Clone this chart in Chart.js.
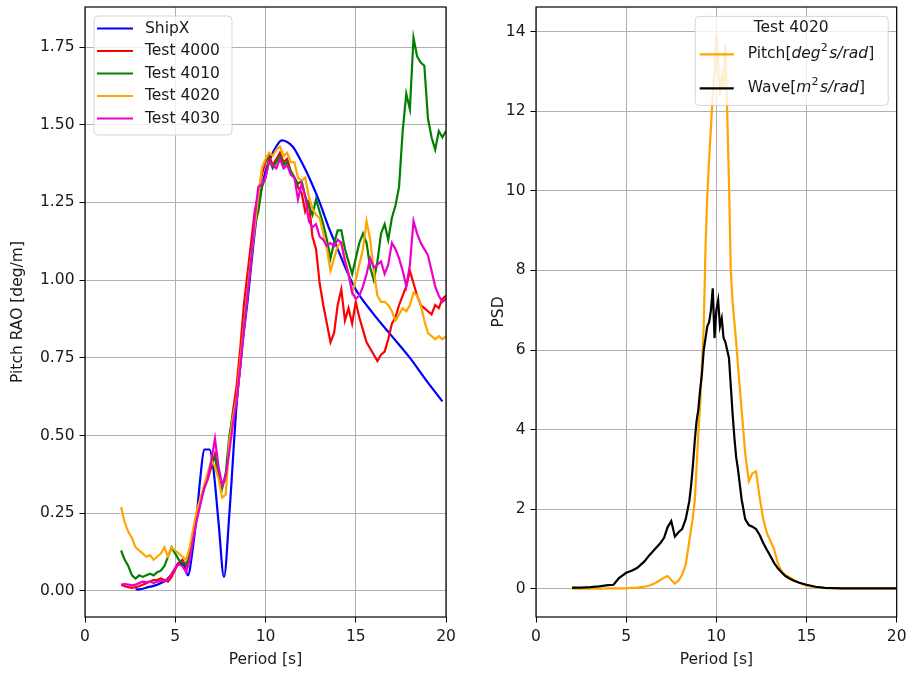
<!DOCTYPE html>
<html>
<head>
<meta charset="utf-8">
<script src="https://cdn.jsdelivr.net/npm/chart.js@4.4.0/dist/chart.umd.min.js"></script>
<style>
  html, body { margin: 0; padding: 0; background: #fff; }
  body { width: 906px; height: 673px; position: relative; overflow: hidden; }
  canvas { position: absolute; top: 0; }
  #raoChart { left: 0; }
  #psdChart { left: 470px; }
</style>
</head>
<body>
<canvas id="raoChart" width="470" height="673"></canvas>
<canvas id="psdChart" width="436" height="673"></canvas>
<script>
// ---- data ----
const raoTicks = [0, 0.25, 0.5, 0.75, 1.0, 1.25, 1.5, 1.75];
const psdTicks = [0, 2, 4, 6, 8, 10, 12, 14];
const raoLabels = ['ShipX', 'Test 4000', 'Test 4010', 'Test 4020', 'Test 4030'];

const shipxPeriod = [2.8, 3.0, 3.5, 4.0, 4.5, 4.9, 5.2, 5.5, 5.7, 6.0, 6.2, 6.4, 6.6, 6.9, 7.1, 7.4, 7.7, 8.0, 8.4, 8.7,
  9.0, 9.5, 10.0, 10.5, 10.9, 11.5, 12.0, 12.5, 13.0, 13.5, 14.0, 14.5, 15.0, 16.0, 17.0, 18.0, 19.0, 19.8];
const shipxRao = [0.005, 0.005, 0.012, 0.02, 0.035, 0.06, 0.09, 0.08, 0.05, 0.15, 0.25, 0.37, 0.455, 0.455, 0.40, 0.22, 0.045, 0.25, 0.6, 0.78,
  0.93, 1.2, 1.35, 1.42, 1.45, 1.43, 1.38, 1.32, 1.25, 1.17, 1.10, 1.03, 0.97, 0.89, 0.82, 0.75, 0.67, 0.61];

const testPeriod = [2.0, 2.2, 2.4, 2.6, 2.8, 3.0, 3.2, 3.4, 3.6, 3.8,
  4.0, 4.2, 4.4, 4.6, 4.8, 5.0, 5.2, 5.4, 5.6, 5.8,
  6.0, 6.2, 6.4, 6.6, 6.8, 7.0, 7.2, 7.4, 7.6, 7.8,
  8.0, 8.2, 8.4, 8.6, 8.8, 9.0, 9.2, 9.4, 9.6, 9.8,
  10.0, 10.2, 10.4, 10.6, 10.8, 11.0, 11.2, 11.4, 11.6, 11.8,
  12.0, 12.2, 12.4, 12.6, 12.8, 13.0, 13.2, 13.4, 13.6, 13.8,
  14.0, 14.2, 14.4, 14.6, 14.8, 15.0, 15.2, 15.4, 15.6, 15.8,
  16.0, 16.2, 16.4, 16.6, 16.8, 17.0, 17.2, 17.4, 17.6, 17.8,
  18.0, 18.2, 18.4, 18.6, 18.8, 19.0, 19.2, 19.4, 19.6, 19.8,
  20.0];

const test4000 = [0.02, 0.015, 0.012, 0.01, 0.012, 0.015, 0.02, 0.025, 0.03, 0.035,
  0.035, 0.04, 0.035, 0.03, 0.045, 0.07, 0.09, 0.10, 0.08, 0.12,
  0.18, 0.24, 0.29, 0.33, 0.36, 0.40, 0.44, 0.38, 0.34, 0.36,
  0.48, 0.58, 0.66, 0.78, 0.92, 1.02, 1.12, 1.22, 1.28, 1.34,
  1.38, 1.40, 1.37, 1.39, 1.41, 1.38, 1.39, 1.35, 1.33, 1.30,
  1.28, 1.22, 1.25, 1.14, 1.10, 0.99, 0.92, 0.86, 0.80, 0.83,
  0.92, 0.97, 0.87, 0.91, 0.86, 0.93, 0.88, 0.84, 0.80, 0.78,
  0.76, 0.74, 0.76, 0.77, 0.81, 0.86, 0.88, 0.92, 0.95, 0.98,
  1.03, 0.99, 0.95, 0.92, 0.91, 0.90, 0.89, 0.92, 0.91, 0.94,
  0.95];
const test4010 = [0.13, 0.10, 0.08, 0.05, 0.04, 0.05, 0.045, 0.05, 0.055, 0.05,
  0.06, 0.065, 0.08, 0.11, 0.14, 0.12, 0.10, 0.09, 0.085, 0.13,
  0.19, 0.25, 0.29, 0.33, 0.37, 0.41, 0.43, 0.37, 0.33, 0.38,
  0.50, 0.57, 0.62, 0.72, 0.86, 0.96, 1.08, 1.18, 1.22, 1.30,
  1.33, 1.39, 1.36, 1.38, 1.40, 1.37, 1.38, 1.35, 1.33, 1.31,
  1.32, 1.27, 1.24, 1.21, 1.26, 1.22, 1.18, 1.13, 1.07, 1.12,
  1.16, 1.16, 1.10, 1.06, 1.02, 1.07, 1.12, 1.15, 1.12, 1.04,
  1.00, 1.06, 1.15, 1.18, 1.13, 1.20, 1.24, 1.30, 1.48, 1.60,
  1.55, 1.78, 1.72, 1.70, 1.69, 1.52, 1.46, 1.42, 1.48, 1.46,
  1.48];
const test4020 = [0.27, 0.22, 0.19, 0.17, 0.14, 0.13, 0.12, 0.11, 0.115, 0.10,
  0.11, 0.12, 0.14, 0.11, 0.14, 0.13, 0.12, 0.11, 0.10, 0.14,
  0.20, 0.26, 0.30, 0.34, 0.38, 0.42, 0.40, 0.36, 0.30, 0.31,
  0.48, 0.56, 0.62, 0.74, 0.85, 0.96, 1.07, 1.17, 1.27, 1.36,
  1.39, 1.41, 1.40, 1.42, 1.43, 1.40, 1.41, 1.38, 1.38, 1.33,
  1.32, 1.33, 1.27, 1.23, 1.21, 1.20, 1.15, 1.10, 1.03, 1.07,
  1.11, 1.12, 1.07, 1.02, 0.96, 1.00, 1.05, 1.10, 1.19, 1.13,
  1.03, 0.95, 0.93, 0.93, 0.92, 0.90, 0.87, 0.89, 0.91, 0.90,
  0.92, 0.96, 0.95, 0.92, 0.87, 0.83, 0.82, 0.81, 0.82, 0.81,
  0.82];
const test4030 = [0.02, 0.022, 0.02, 0.018, 0.02, 0.025, 0.03, 0.028, 0.03, 0.025,
  0.03, 0.032, 0.03, 0.04, 0.055, 0.075, 0.085, 0.08, 0.06, 0.10,
  0.17, 0.23, 0.28, 0.33, 0.36, 0.42, 0.49, 0.40, 0.34, 0.37,
  0.45, 0.54, 0.61, 0.72, 0.84, 0.95, 1.06, 1.20, 1.30, 1.31,
  1.33, 1.38, 1.37, 1.36, 1.39, 1.36, 1.37, 1.34, 1.33, 1.26,
  1.31, 1.27, 1.19, 1.17, 1.18, 1.14, 1.13, 1.11, 1.12, 1.11,
  1.13, 1.12, 1.06, 1.02, 0.96, 0.94, 0.95, 0.98, 1.02, 1.07,
  1.04, 1.05, 1.06, 1.02, 1.05, 1.12, 1.10, 1.07, 1.03, 0.98,
  1.05, 1.19, 1.15, 1.12, 1.10, 1.08, 1.03, 0.98, 0.95, 0.93,
  0.94];

const psdPeriod = [2.0, 2.5, 3.0, 3.5, 4.0, 4.3, 4.6, 5.0, 5.3, 5.6,
  6.0, 6.3, 6.6, 6.9, 7.1, 7.3, 7.5, 7.7, 7.9, 8.1,
  8.3, 8.5, 8.6, 8.7, 8.8, 8.9, 9.0, 9.1, 9.2, 9.3,
  9.4, 9.5, 9.6, 9.7, 9.8, 9.9, 10.0, 10.1, 10.2, 10.3,
  10.4, 10.5, 10.6, 10.7, 10.8, 10.9, 11.0, 11.1, 11.2, 11.4,
  11.6, 11.8, 12.0, 12.2, 12.4, 12.6, 12.8, 13.0, 13.2, 13.4,
  13.6, 13.8, 14.0, 14.3, 14.6, 15.0, 15.5, 16.0, 17.0, 18.0,
  19.0, 20.0];
const pitchPsd = [0.0, 0.0, 0.0, 0.0, 0.01, 0.01, 0.01, 0.01, 0.02, 0.03,
  0.05, 0.08, 0.14, 0.22, 0.28, 0.32, 0.22, 0.13, 0.2, 0.35,
  0.6, 1.2, 1.5, 1.8, 2.2, 3.0, 3.9, 4.6, 5.6, 6.6,
  8.6, 9.9, 10.8, 11.6, 12.4, 13.0, 13.95, 13.2, 12.4, 12.9,
  12.6, 13.7, 12.0, 10.2, 8.0, 7.2, 6.7, 6.2, 5.6, 4.5,
  3.4, 2.7, 2.9, 2.95, 2.3, 1.75, 1.4, 1.2, 1.0, 0.65,
  0.45, 0.35, 0.3, 0.22, 0.15, 0.08, 0.04, 0.02, 0.01, 0.01,
  0.01, 0.01];
const wavePsd = [0.03, 0.03, 0.04, 0.06, 0.09, 0.10, 0.27, 0.40, 0.45, 0.52,
  0.68, 0.85, 1.00, 1.15, 1.28, 1.55, 1.70, 1.31, 1.42, 1.50,
  1.75, 2.2, 2.6, 3.1, 3.7, 4.2, 4.5, 5.0, 5.4, 6.0,
  6.3, 6.6, 6.7, 7.0, 7.55, 6.3, 7.0, 7.25, 6.6, 6.8,
  6.3, 6.2, 6.0, 5.8, 5.1, 4.4, 3.8, 3.3, 3.0, 2.25,
  1.75, 1.6, 1.56, 1.5, 1.35, 1.15, 0.98, 0.82, 0.65, 0.52,
  0.42, 0.33, 0.27, 0.2, 0.15, 0.1, 0.05, 0.02, 0.01, 0.01,
  0.01, 0.01];

// ---- styling ----
const FONT = 'DejaVu Sans';
const FS = 15.5;
const TXT = '#1a1a1a';
Chart.defaults.font.family = FONT;
Chart.defaults.font.size = FS;
Chart.defaults.color = TXT;

function pts(xs, ys) {
  return xs.map((x, i) => ({ x: x, y: ys[i] }));
}

function line(label, xs, ys, color, order) {
  return {
    label: label,
    data: pts(xs, ys),
    borderColor: color,
    backgroundColor: color,
    borderWidth: 2.2,
    pointRadius: 0,
    fill: false,
    tension: 0,
    order: order
  };
}

const gridOpts = { color: '#b0b0b0', lineWidth: 1, tickColor: '#000', tickLength: 5.5, tickWidth: 1 };

const frame = {
  id: 'frame',
  afterDatasetsDraw(chart) {
    const { ctx, chartArea: a } = chart;
    ctx.save();
    ctx.strokeStyle = '#000';
    ctx.lineWidth = 1.2;
    ctx.strokeRect(a.left, a.top, a.right - a.left, a.bottom - a.top);
    ctx.restore();
  }
};

function box(ctx, x, y, w, h) {
  const r = 4;
  ctx.save();
  ctx.beginPath();
  ctx.moveTo(x + r, y);
  ctx.arcTo(x + w, y, x + w, y + h, r);
  ctx.arcTo(x + w, y + h, x, y + h, r);
  ctx.arcTo(x, y + h, x, y, r);
  ctx.arcTo(x, y, x + w, y, r);
  ctx.closePath();
  ctx.fillStyle = 'rgba(255,255,255,0.8)';
  ctx.fill();
  ctx.strokeStyle = 'rgba(204,204,204,0.8)';
  ctx.lineWidth = 1;
  ctx.stroke();
  ctx.restore();
}

function rich(ctx, parts, x, y) {
  parts.forEach(p => {
    const size = p.sup ? 11 : FS;
    ctx.font = (p.it ? 'italic ' : '') + size + 'px "' + FONT + '"';
    ctx.fillText(p.t, x, p.sup ? y - 6 : y);
    x += ctx.measureText(p.t).width + (p.sup ? 1.5 : 0);
  });
}

const raoLegend = {
  id: 'raoLegend',
  afterDraw(chart) {
    const { ctx, chartArea: a } = chart;
    const x = a.left + 9, y = a.top + 9;
    box(ctx, x, y, 138, 119);
    const colors = ['#0000ff', '#ff0000', '#008000', '#ffa500', '#ee00cc'];
    ctx.save();
    ctx.textBaseline = 'middle';
    ctx.fillStyle = TXT;
    ctx.font = FS + 'px "' + FONT + '"';
    raoLabels.forEach((lab, i) => {
      const cy = y + 12.5 + i * 22.5;
      ctx.strokeStyle = colors[i];
      ctx.lineWidth = 2.2;
      ctx.beginPath();
      ctx.moveTo(x + 3, cy);
      ctx.lineTo(x + 39, cy);
      ctx.stroke();
      ctx.fillText(lab, x + 51, cy);
    });
    ctx.restore();
  }
};

const psdLegend = {
  id: 'psdLegend',
  afterDraw(chart) {
    const { ctx, chartArea: a } = chart;
    const w = 193, h = 89;
    const x = a.right - 8.5 - w, y = a.top + 9.4;
    box(ctx, x, y, w, h);
    ctx.save();
    ctx.textBaseline = 'middle';
    ctx.fillStyle = TXT;
    ctx.font = FS + 'px "' + FONT + '"';
    ctx.textAlign = 'center';
    ctx.fillText('Test 4020', x + 96, y + 12);
    ctx.textAlign = 'left';
    const rows = [
      { color: '#ffa500', parts: [{ t: 'Pitch[' }, { t: 'deg', it: true }, { t: '2', sup: true }, { t: 's/rad', it: true }, { t: ']' }] },
      { color: '#000000', parts: [{ t: 'Wave[' }, { t: 'm', it: true }, { t: '2', sup: true }, { t: 's/rad', it: true }, { t: ']' }] }
    ];
    rows.forEach((r, i) => {
      const cy = y + 38 + i * 34;
      ctx.strokeStyle = r.color;
      ctx.lineWidth = 2.2;
      ctx.beginPath();
      ctx.moveTo(x + 4.5, cy);
      ctx.lineTo(x + 38.5, cy);
      ctx.stroke();
      rich(ctx, r.parts, x + 52.5, cy);
    });
    ctx.restore();
  }
};

function xScale() {
  return {
    type: 'linear',
    min: 0,
    max: 20,
    ticks: { stepSize: 5, padding: 5, color: TXT },
    grid: gridOpts,
    border: { display: false },
    title: { display: true, text: 'Period [s]', color: TXT, padding: { top: 0, bottom: 4 } },
    afterFit(s) { s.height = 56; s.paddingLeft = 0; s.paddingRight = 0; }
  };
}

function yScale(min, max, ticks, fmt, title, titlePad, width) {
  return {
    type: 'linear',
    min: min,
    max: max,
    afterBuildTicks(s) { s.ticks = ticks.map(v => ({ value: v })); },
    ticks: { padding: 5, color: TXT, callback: fmt },
    grid: gridOpts,
    border: { display: false },
    title: { display: true, text: title, color: TXT, padding: { top: titlePad, bottom: 0 } },
    afterFit(s) { s.width = width; s.paddingTop = 0; s.paddingBottom = 0; }
  };
}

// ---- left: pitch RAO ----
const shipx = line(raoLabels[0], shipxPeriod, shipxRao, '#0000ff', 5);
shipx.cubicInterpolationMode = 'monotone';

new Chart(document.getElementById('raoChart'), {
  type: 'line',
  data: {
    datasets: [
      shipx,
      line(raoLabels[1], testPeriod, test4000, '#ff0000', 4),
      line(raoLabels[2], testPeriod, test4010, '#008000', 3),
      line(raoLabels[3], testPeriod, test4020, '#ffa500', 2),
      line(raoLabels[4], testPeriod, test4030, '#ee00cc', 1)
    ]
  },
  options: {
    responsive: false,
    animation: false,
    events: [],
    layout: { padding: { left: 0, right: 24, top: 7, bottom: 0 } },
    plugins: { legend: { display: false }, tooltip: { enabled: false } },
    scales: {
      x: xScale(),
      y: yScale(-0.084, 1.879, raoTicks, v => v.toFixed(2), 'Pitch RAO [deg/m]', 9, 85)
    }
  },
  plugins: [frame, raoLegend]
});

// ---- right: PSD ----
new Chart(document.getElementById('psdChart'), {
  type: 'line',
  data: {
    datasets: [
      line('Pitch', psdPeriod, pitchPsd, '#ffa500', 2),
      line('Wave', psdPeriod, wavePsd, '#000000', 1)
    ]
  },
  options: {
    responsive: false,
    animation: false,
    events: [],
    layout: { padding: { left: 0, right: 9.3, top: 7, bottom: 0 } },
    plugins: { legend: { display: false }, tooltip: { enabled: false } },
    scales: {
      x: xScale(),
      y: yScale(-0.71, 14.62, psdTicks, v => String(v), 'PSD', 20, 66)
    }
  },
  plugins: [frame, psdLegend]
});
</script>
</body>
</html>
